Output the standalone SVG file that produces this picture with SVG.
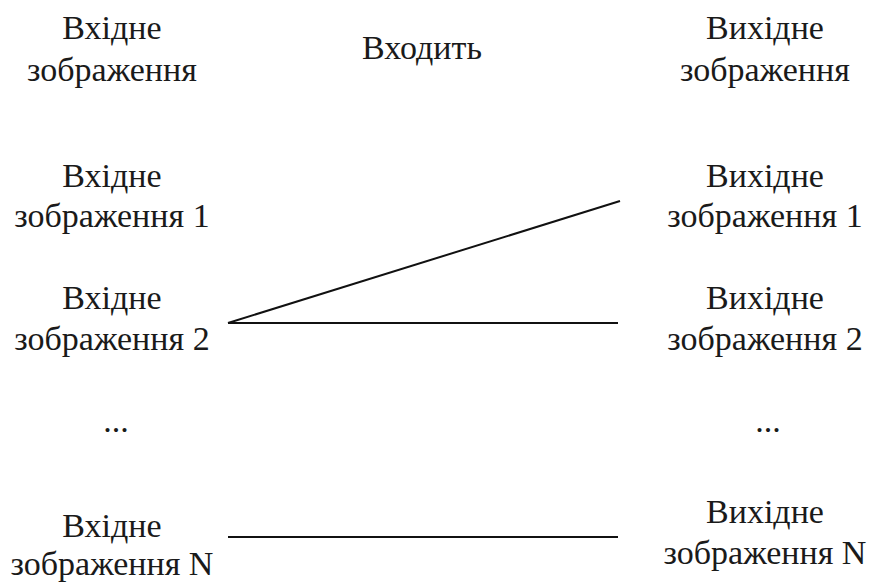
<svg xmlns="http://www.w3.org/2000/svg" width="871" height="583" viewBox="0 0 871 583">
<style>
text { font-family: "Liberation Serif", "Times New Roman", serif; font-size: 34px; fill: #1a1a1a; text-anchor: middle; }
.conn line { stroke: #111; stroke-width: 2; }
</style>
<rect width="871" height="583" fill="#fff"/>
<g id="hdr-in"><text x="112" y="39">Вхідне</text><text x="112" y="81">зображення</text></g>
<g id="hdr-mid"><text x="422" y="59">Входить</text></g>
<g id="hdr-out"><text x="765" y="39">Вихідне</text><text x="765" y="81">зображення</text></g>
<g id="in1"><text x="112" y="187">Вхідне</text><text x="112" y="227">зображення 1</text></g>
<g id="in2"><text x="112" y="309">Вхідне</text><text x="112" y="350">зображення 2</text></g>
<g id="in-dots"><text x="116" y="432">...</text></g>
<g id="inN"><text x="112" y="537">Вхідне</text><text x="112" y="575">зображення N</text></g>
<g id="out1"><text x="765" y="187">Вихідне</text><text x="765" y="227">зображення 1</text></g>
<g id="out2"><text x="765" y="309">Вихідне</text><text x="765" y="350">зображення 2</text></g>
<g id="out-dots"><text x="768" y="432">...</text></g>
<g id="outN"><text x="765" y="523">Вихідне</text><text x="765" y="564">зображення N</text></g>
<g id="connectors" class="conn">
<line x1="228" y1="323" x2="620" y2="201"/>
<line x1="228" y1="323" x2="618" y2="323"/>
<line x1="228" y1="537" x2="618" y2="537"/>
</g>
</svg>
